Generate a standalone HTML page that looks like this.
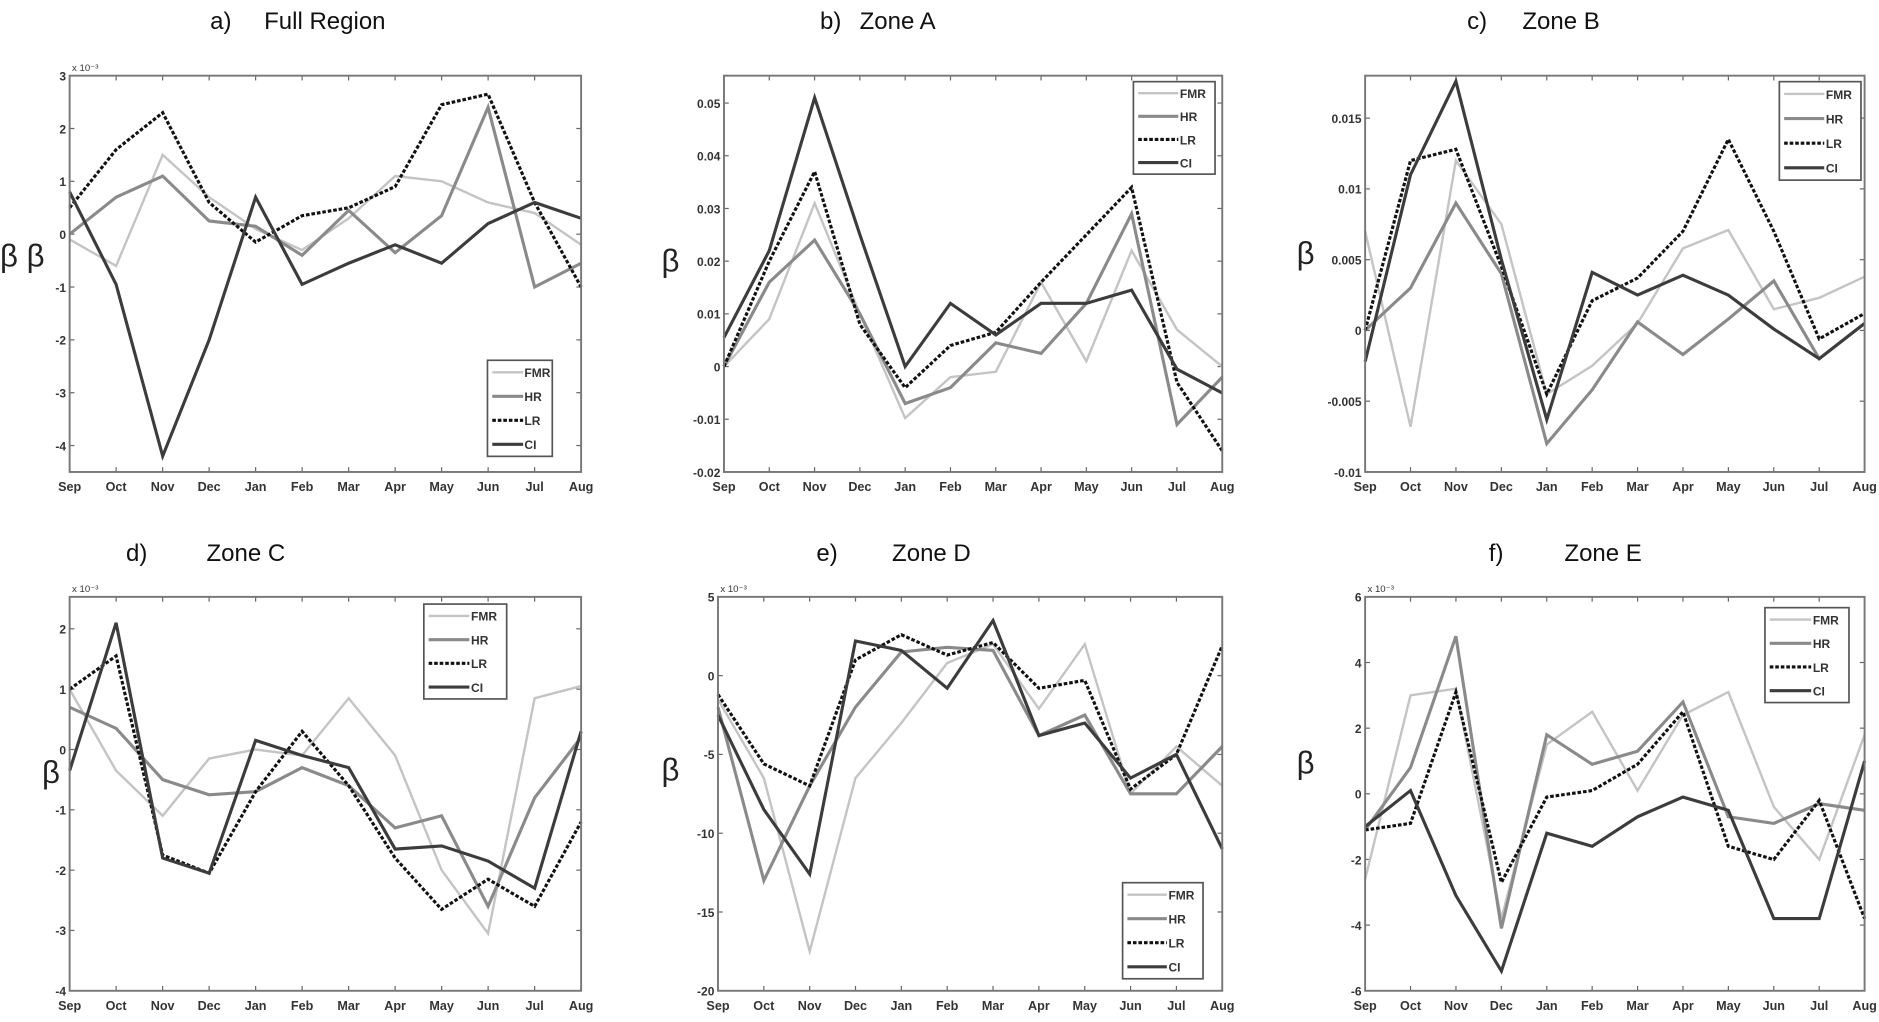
<!DOCTYPE html>
<html><head><meta charset="utf-8"><style>
html,body{margin:0;padding:0;background:#fff;}
svg{display:block;}
text{font-family:"Liberation Sans",sans-serif;}
</style></head><body>
<svg id="fig" width="1879" height="1022" viewBox="0 0 1565 851" preserveAspectRatio="none" xmlns="http://www.w3.org/2000/svg"></svg>
<script>
const months = ["Sep","Oct","Nov","Dec","Jan","Feb","Mar","Apr","May","Jun","Jul","Aug"];
const seriesNames = ["FMR","HR","LR","CI"];
// Panel a (x10^-3)
const aFMR = [-0.1,-0.6,1.5,0.7,0.1,-0.3,0.3,1.1,1.0,0.6,0.4,-0.2];
const aHR  = [0,0.7,1.1,0.25,0.15,-0.4,0.45,-0.35,0.35,2.4,-1.0,-0.55];
const aLR  = [0.5,1.6,2.3,0.6,-0.15,0.35,0.5,0.9,2.45,2.65,0.6,-1.0];
const aCI  = [0.8,-0.95,-4.2,-2.0,0.7,-0.95,-0.55,-0.2,-0.55,0.2,0.6,0.3];
const aTicks = [3,2,1,0,-1,-2,-3,-4];
// Panel b
const bFMR = [0,0.009,0.031,0.01,-0.0098,-0.002,-0.001,0.016,0.001,0.022,0.007,0];
const bHR  = [0,0.016,0.024,0.01,-0.007,-0.004,0.0045,0.0025,0.012,0.029,-0.011,-0.002];
const bLR  = [0,0.02,0.037,0.008,-0.004,0.004,0.0065,0.016,0.025,0.034,-0.003,-0.016];
const bCI  = [0.0055,0.022,0.051,0.025,0,0.012,0.006,0.012,0.012,0.0145,-0.0005,-0.005];
const bTicks = ["0.05","0.04","0.03","0.02","0.01","0","-0.01","-0.02"];
// Panel c
const cFMR = [0.007,-0.0068,0.012,0.0075,-0.0045,-0.0025,0.0005,0.0058,0.0071,0.0015,0.0023,0.0038];
const cHR  = [0,0.003,0.009,0.004,-0.008,-0.0042,0.0006,-0.0017,0.0008,0.0035,-0.002,0.0005];
const cLR  = [0,0.012,0.0128,0.0045,-0.0045,0.0021,0.0037,0.007,0.0135,0.007,-0.0006,0.0012];
const cCI  = [-0.0022,0.011,0.0176,0.005,-0.0063,0.0041,0.0025,0.0039,0.0025,0.0001,-0.002,0.0005];
const cTicks = ["0.015","0.01","0.005","0","-0.005","-0.01"];
// Panel d (x10^-3)
const dFMR = [1.0,-0.35,-1.1,-0.15,0.0,-0.1,0.85,-0.1,-2.0,-3.05,0.85,1.05];
const dHR  = [0.7,0.35,-0.5,-0.75,-0.7,-0.3,-0.6,-1.3,-1.1,-2.6,-0.8,0.2];
const dLR  = [1.0,1.55,-1.75,-2.05,-0.7,0.3,-0.6,-1.8,-2.65,-2.15,-2.6,-1.2];
const dCI  = [-0.35,2.1,-1.8,-2.05,0.15,-0.1,-0.3,-1.65,-1.6,-1.85,-2.3,0.3];
const dTicks = [2,1,0,-1,-2,-3,-4];
// Panel e (x10^-3)
const eFMR = [-1.5,-6.5,-17.5,-6.5,-3,0.8,2,-2.1,2,-7.5,-4.5,-7];
const eHR  = [-2,-13,-7,-2,1.5,1.8,1.6,-3.8,-2.5,-7.5,-7.5,-4.5];
const eLR  = [-1.2,-5.6,-7,1,2.6,1.3,2.1,-0.8,-0.3,-7.2,-5,1.9];
const eCI  = [-2.5,-8.5,-12.6,2.2,1.6,-0.8,3.5,-3.8,-3,-6.5,-5,-11];
const eTicks = [5,0,-5,-10,-15,-20];
// Panel f (x10^-3)
const fFMR = [-2.6,3,3.2,-3.8,1.5,2.5,0.1,2.4,3.1,-0.4,-2,1.8];
const fHR  = [-1.1,0.8,4.8,-4.1,1.8,0.9,1.3,2.8,-0.7,-0.9,-0.3,-0.5];
const fLR  = [-1.1,-0.9,3.1,-2.7,-0.1,0.1,0.9,2.5,-1.6,-2.0,-0.2,-3.8];
const fCI  = [-1.0,0.1,-3.1,-5.4,-1.2,-1.6,-0.7,-0.1,-0.5,-3.8,-3.8,1];
const fTicks = [6,4,2,0,-2,-4,-6];

const NS="http://www.w3.org/2000/svg";
const svg=document.getElementById('fig');
function mk(tag,attrs,parent){const e=document.createElementNS(NS,tag);for(const k in attrs)e.setAttribute(k,attrs[k]);(parent||svg).appendChild(e);return e;}
const styles={FMR:{stroke:"#c4c4c4",dash:null,w:2},HR:{stroke:"#8a8a8a",dash:null,w:2.6},LR:{stroke:"#111",dash:"3,1.6",w:2.6},CI:{stroke:"#3c3c3c",dash:null,w:2.6}};

const panels=[
 {id:"a",x0:58,x1:484,y0:63,y1:393,min:-4.5,max:3,ticks:aTicks,data:[aFMR,aHR,aLR,aCI],exp:true,
  tl:"a)",tlx:175,tt:"Full Region",ttx:220,ty:24,beta:"β β",bx:0,by:222,leg:[406,300,54,80]},
 {id:"b",x0:603,x1:1018,y0:63,y1:393,min:-0.02,max:0.0552,ticks:bTicks,data:[bFMR,bHR,bLR,bCI],exp:false,
  tl:"b)",tlx:683,tt:"Zone  A",ttx:716,ty:24,beta:"β",bx:551,by:226,leg:[944,68,68,77]},
 {id:"c",x0:1137,x1:1553,y0:63,y1:393,min:-0.01,max:0.018,ticks:cTicks,data:[cFMR,cHR,cLR,cCI],exp:false,
  tl:"c)",tlx:1222,tt:"Zone  B",ttx:1268,ty:24,beta:"β",bx:1080,by:220,leg:[1482,68,68,82]},
 {id:"d",x0:58,x1:484,y0:497,y1:825,min:-4,max:2.53,ticks:dTicks,data:[dFMR,dHR,dLR,dCI],exp:true,
  tl:"d)",tlx:105,tt:"Zone  C",ttx:172,ty:467,beta:"β",bx:35,by:652,leg:[353,503,69,79]},
 {id:"e",x0:598,x1:1018,y0:497,y1:825,min:-20,max:5,ticks:eTicks,data:[eFMR,eHR,eLR,eCI],exp:true,
  tl:"e)",tlx:680,tt:"Zone D",ttx:743,ty:467,beta:"β",bx:551,by:650,leg:[935,735,67,80]},
 {id:"f",x0:1137,x1:1553,y0:497,y1:825,min:-6,max:6,ticks:fTicks,data:[fFMR,fHR,fLR,fCI],exp:true,
  tl:"f)",tlx:1240,tt:"Zone E",ttx:1303,ty:467,beta:"β",bx:1080,by:644,leg:[1470,506,70,79]}
];

panels.forEach(p=>{
  const g=mk('g',{});
  
  
  const xs=i=>p.x0+(p.x1-p.x0)*i/(months.length-1);
  const ys=v=>p.y1-(p.y1-p.y0)*(v-p.min)/(p.max-p.min);
  const t1=mk('text',{x:p.tlx,y:p.ty,'font-size':20,'font-family':'"Liberation Serif",serif',fill:'#111'},g);t1.textContent=p.tl;
  
  const t2=mk('text',{x:p.ttx,y:p.ty,'font-size':20,fill:'#111'},g);t2.textContent=p.tt;
  
  const b=mk('text',{x:p.bx,y:p.by,'font-size':26,'font-family':'"Liberation Serif",serif',fill:'#222'},g);b.textContent=p.beta;
  
  if(p.exp){const e=mk('text',{x:p.x0+2,y:p.y0-4,'font-size':8,fill:'#333'},g);e.textContent='x 10⁻³';
    }
  p.ticks.forEach(t=>{const v=parseFloat(t);const y=ys(v);
    mk('line',{x1:p.x0,x2:p.x0+4,y1:y,y2:y,stroke:'#666','stroke-width':1},g);
    mk('line',{x1:p.x1,x2:p.x1-4,y1:y,y2:y,stroke:'#666','stroke-width':1},g);
    const tx=mk('text',{x:p.x0-3,y:y+4,'font-size':10,'text-anchor':'end',fill:'#333','font-weight':'bold'},g);tx.textContent=t;
    });
  months.forEach((m,i)=>{const x=xs(i);
    mk('line',{x1:x,x2:x,y1:p.y1,y2:p.y1-4,stroke:'#666','stroke-width':1},g);
    mk('line',{x1:x,x2:x,y1:p.y0,y2:p.y0+4,stroke:'#666','stroke-width':1},g);
    const tx=mk('text',{x:x,y:p.y1+16,'font-size':10.5,'text-anchor':'middle',fill:'#333','font-weight':'bold'},g);tx.textContent=m;
    });
  p.data.forEach((arr,si)=>{const s=styles[seriesNames[si]];
    const pts=arr.map((v,i)=>xs(i).toFixed(1)+','+ys(v).toFixed(1)).join(' ');
    const pl=mk('polyline',{points:pts,fill:'none',stroke:s.stroke,'stroke-width':s.w,'stroke-linejoin':'miter'},g);
    if(s.dash)pl.setAttribute('stroke-dasharray',s.dash);
    
    });
  const fr=mk('rect',{x:p.x0,y:p.y0,width:p.x1-p.x0,height:p.y1-p.y0,fill:'none',stroke:'#777','stroke-width':1.6},g);
  
  const [lx,ly,lw,lh]=p.leg;
  const lg=mk('g',{},g);
  
  mk('rect',{x:lx,y:ly,width:lw,height:lh,fill:'#fff',stroke:'#555','stroke-width':1.4},lg);
  seriesNames.forEach((n,k)=>{const s=styles[n];const yy=ly+lh*(k+0.5)/4;
    const ln=mk('line',{x1:lx+4,x2:lx+lw*0.55,y1:yy,y2:yy,stroke:s.stroke,'stroke-width':s.w},lg);
    if(s.dash)ln.setAttribute('stroke-dasharray',s.dash);
    const tx=mk('text',{x:lx+lw*0.57,y:yy+4,'font-size':10,fill:'#333','font-weight':'bold'},lg);tx.textContent=n;
    });
});
</script>
</body></html>
